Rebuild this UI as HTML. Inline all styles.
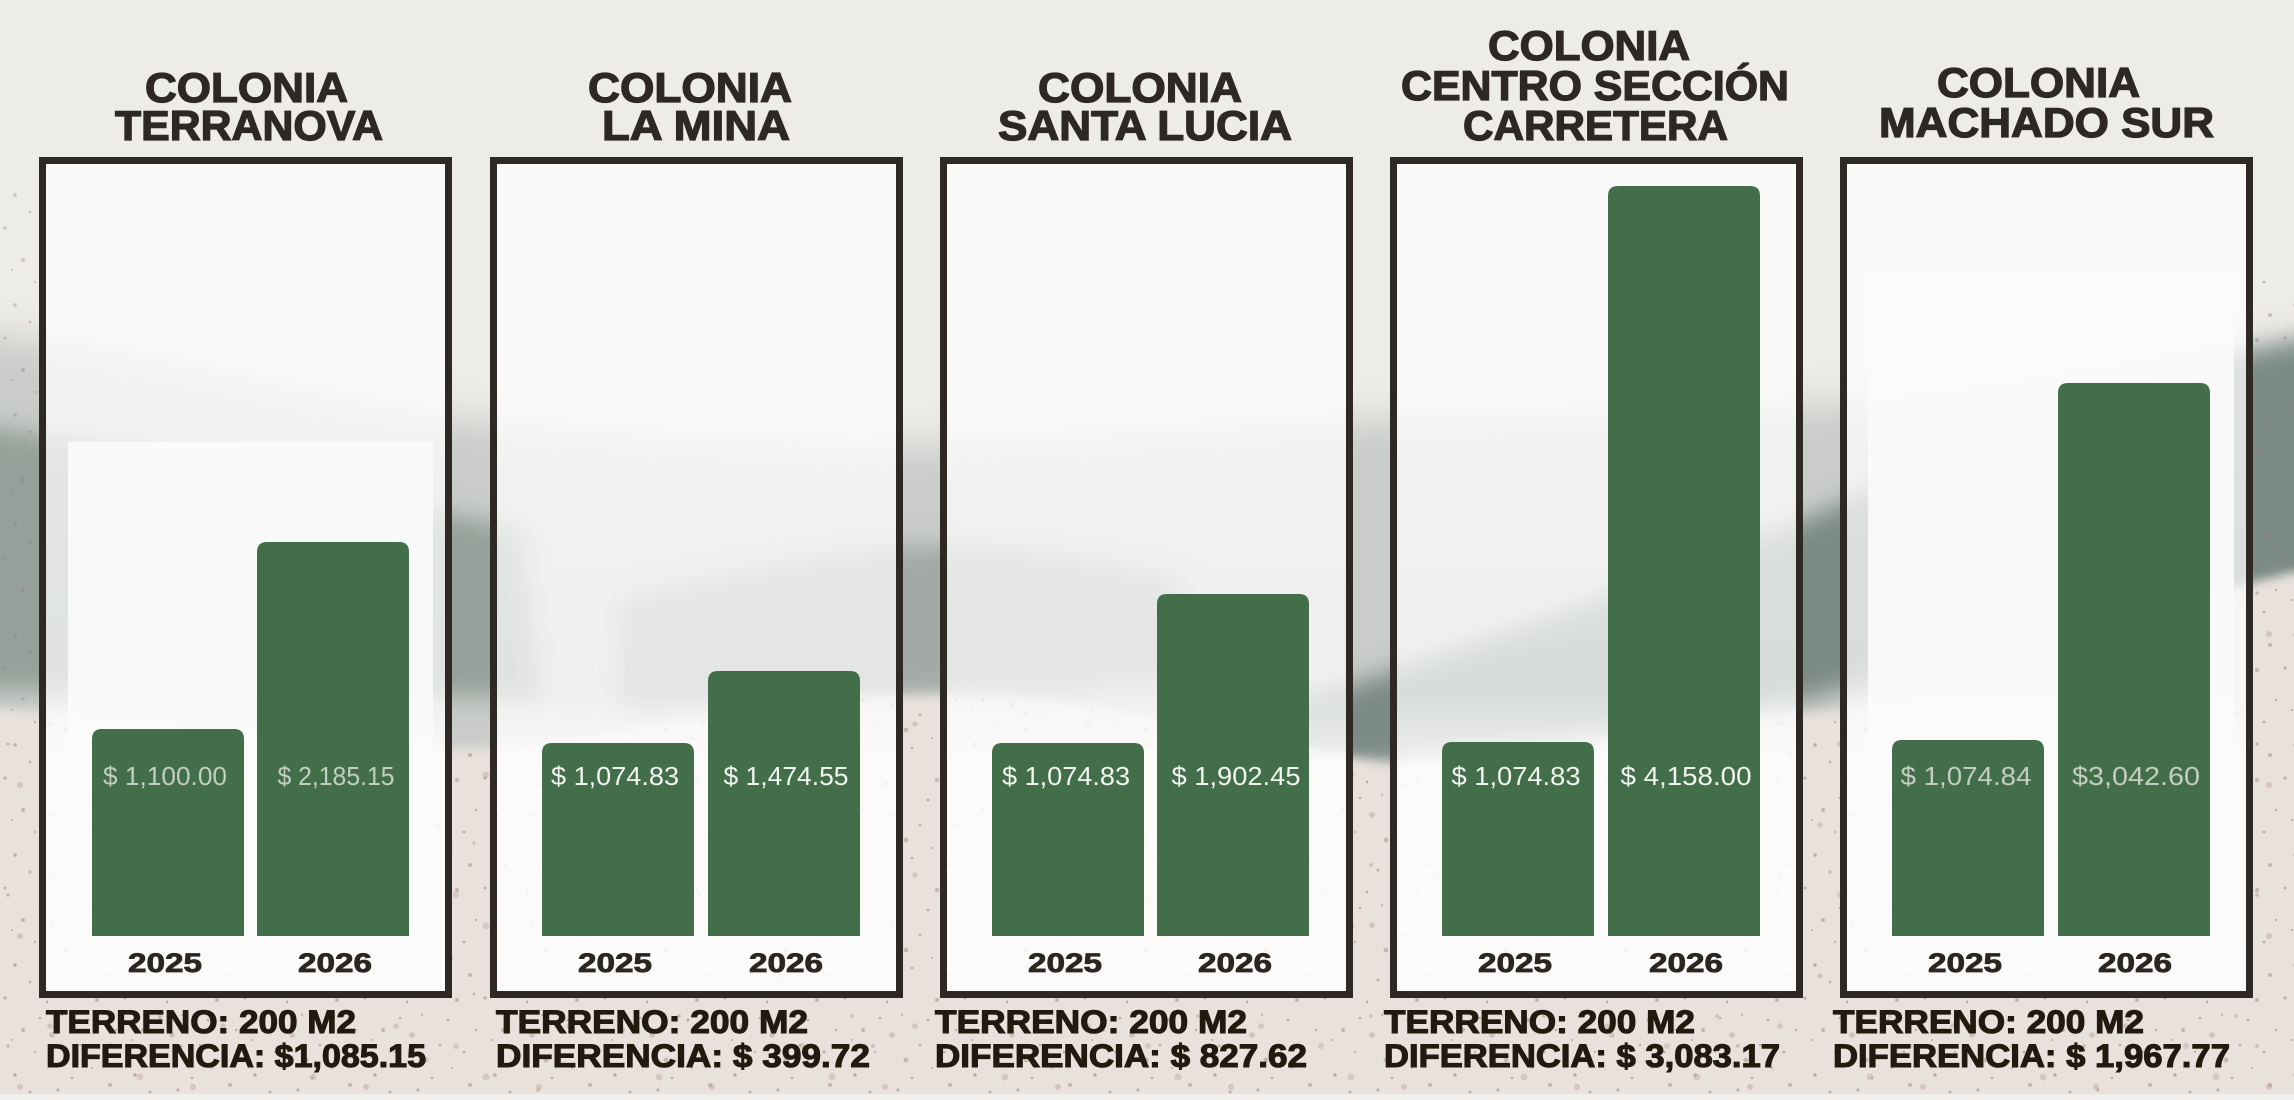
<!DOCTYPE html>
<html>
<head>
<meta charset="utf-8">
<style>
html,body{margin:0;padding:0;background:#eeece9;}
svg{display:block;}
text{font-family:"Liberation Sans",Arial,sans-serif;}
.t{font-weight:bold;font-size:42px;fill:#2d2823;stroke:#2d2823;stroke-width:1.3;}
.b{font-weight:bold;font-size:32px;fill:#22190f;stroke:#22190f;stroke-width:1.1;}
.y{font-weight:bold;font-size:27px;fill:#2b2620;stroke:#2b2620;stroke-width:0.8;}
.v{font-size:26px;fill:#f3f5f1;}
.vf{font-size:26px;fill:#c3cec1;}
</style>
</head>
<body>
<svg width="2294" height="1100" viewBox="0 0 2294 1100" xmlns="http://www.w3.org/2000/svg">
<defs>
  <filter id="bl12" x="-20%" y="-50%" width="140%" height="200%"><feGaussianBlur stdDeviation="12"/></filter>
  <filter id="bl20" x="-20%" y="-50%" width="140%" height="200%"><feGaussianBlur stdDeviation="20"/></filter>
  <filter id="bl5" x="-10%" y="-20%" width="120%" height="140%"><feGaussianBlur stdDeviation="5"/></filter>
  <linearGradient id="inner" x1="0" y1="0" x2="0" y2="1">
    <stop offset="0" stop-color="#ffffff" stop-opacity="0.72"/>
    <stop offset="0.3" stop-color="#ffffff" stop-opacity="0.74"/>
    <stop offset="0.64" stop-color="#ffffff" stop-opacity="0.70"/>
    <stop offset="0.72" stop-color="#ffffff" stop-opacity="0.86"/>
    <stop offset="1" stop-color="#ffffff" stop-opacity="0.88"/>
  </linearGradient>
  <pattern id="spk" width="120" height="110" patternUnits="userSpaceOnUse">
    <g fill="#9a7668">
      <circle cx="5" cy="8" r="1.5" opacity="0.6"/>
      <circle cx="23" cy="40" r="2" opacity="0.5"/>
      <circle cx="47" cy="12" r="1.2" opacity="0.7"/>
      <circle cx="66" cy="70" r="2.5" opacity="0.45"/>
      <circle cx="88" cy="30" r="1.5" opacity="0.6"/>
      <circle cx="110" cy="95" r="2" opacity="0.5"/>
      <circle cx="15" cy="85" r="1.8" opacity="0.55"/>
      <circle cx="35" cy="62" r="1" opacity="0.7"/>
      <circle cx="58" cy="100" r="1.6" opacity="0.5"/>
      <circle cx="80" cy="55" r="1.2" opacity="0.6"/>
      <circle cx="97" cy="10" r="2.2" opacity="0.45"/>
      <circle cx="104" cy="62" r="1.4" opacity="0.6"/>
      <circle cx="40" cy="28" r="1.3" opacity="0.55"/>
      <circle cx="72" cy="88" r="1.1" opacity="0.7"/>
      <circle cx="12" cy="50" r="1" opacity="0.6"/>
      <circle cx="52" cy="45" r="2.8" opacity="0.35"/>
      <circle cx="92" cy="78" r="1" opacity="0.6"/>
      <circle cx="30" cy="102" r="1.5" opacity="0.5"/>
      <circle cx="116" cy="40" r="1.2" opacity="0.6"/>
      <circle cx="62" cy="25" r="1" opacity="0.6"/>
    </g>
  </pattern>
  <pattern id="spk2" width="173" height="151" patternUnits="userSpaceOnUse">
    <g fill="#b09083">
      <circle cx="20" cy="30" r="3" opacity="0.35"/>
      <circle cx="90" cy="70" r="2.5" opacity="0.4"/>
      <circle cx="140" cy="20" r="3.5" opacity="0.3"/>
      <circle cx="50" cy="120" r="2.8" opacity="0.35"/>
      <circle cx="160" cy="110" r="2" opacity="0.4"/>
      <circle cx="110" cy="140" r="3" opacity="0.3"/>
      <circle cx="128" cy="88" r="1.5" opacity="0.5"/>
      <circle cx="8" cy="140" r="1.8" opacity="0.5"/>
    </g>
  </pattern>
  <clipPath id="groundClip">
    <path d="M-50 705 C150 715,350 760,520 745 C700 725,800 695,950 695 C1100 695,1250 745,1400 765 C1600 750,1750 718,1850 708 C2000 680,2150 600,2350 560 L2350 1150 L-50 1150 Z"/>
  </clipPath>
</defs>

<!-- background -->
<rect x="0" y="0" width="2294" height="1100" fill="#eeece9"/>
<!-- mist -->
<path d="M-50 330 C150 350,350 410,470 420 C650 440,800 450,920 445 C1100 440,1250 425,1370 420 C1550 415,1700 410,1820 405 C2000 395,2150 350,2350 340 L2350 820 L-50 820 Z" fill="#c9ccc9" filter="url(#bl20)"/>
<!-- left ridge -->
<path d="M-60 420 C100 440,300 480,520 530 L540 700 C400 690,200 690,-60 690 Z" fill="#95a09a" filter="url(#bl12)"/>
<!-- middle ridge -->
<path d="M620 600 C740 570,860 545,940 545 C1030 545,1100 560,1180 580 L1180 680 C1080 688,1000 692,920 694 C830 696,740 704,620 712 Z" fill="#a3aaa6" filter="url(#bl12)"/>
<!-- big right ridge -->
<path d="M1180 740 C1400 670,1650 590,1850 500 C2000 440,2200 350,2360 330 L2360 580 C2150 600,1950 660,1800 700 C1600 740,1400 765,1180 780 Z" fill="#7c8a85" filter="url(#bl12)"/>
<!-- ground -->
<path d="M-50 705 C150 715,350 760,520 745 C700 725,800 695,950 695 C1100 695,1250 745,1400 765 C1600 750,1750 718,1850 708 C2000 680,2150 600,2350 560 L2350 1150 L-50 1150 Z" fill="#e8e1dc" filter="url(#bl5)"/>
<g clip-path="url(#groundClip)">
  <rect x="0" y="540" width="2294" height="560" fill="url(#spk)" opacity="0.85"/>
  <rect x="0" y="540" width="2294" height="560" fill="url(#spk2)"/>
</g>
<!-- speckles on right edge above ground and left top -->
<rect x="2254" y="280" width="40" height="300" fill="url(#spk)" opacity="0.8"/>
<rect x="0" y="180" width="38" height="520" fill="url(#spk)" opacity="0.7"/>
<rect x="0" y="1094" width="2294" height="6" fill="#f1efed"/>

<!-- box interiors -->
<rect x="46" y="164" width="399" height="827" fill="url(#inner)"/>
<rect x="497" y="164" width="399" height="827" fill="url(#inner)"/>
<rect x="947" y="164" width="399" height="827" fill="url(#inner)"/>
<rect x="1397" y="164" width="399" height="827" fill="url(#inner)"/>
<rect x="1847" y="164" width="399" height="827" fill="url(#inner)"/>

<!-- white overlay panels in box 1 and 5 -->
<rect x="68" y="442" width="365" height="518" fill="#fbfbfb" opacity="0.9"/>
<rect x="1868" y="275" width="366" height="684" fill="#fbfbfb" opacity="0.9"/>

<!-- bars -->
<g fill="#436e4a">
  <path d="M92 936 L92 739 Q92 729 102 729 L234 729 Q244 729 244 739 L244 936 Z"/>
  <path d="M257 936 L257 552 Q257 542 267 542 L399 542 Q409 542 409 552 L409 936 Z"/>
  <path d="M542 936 L542 753 Q542 743 552 743 L684 743 Q694 743 694 753 L694 936 Z"/>
  <path d="M708 936 L708 681 Q708 671 718 671 L850 671 Q860 671 860 681 L860 936 Z"/>
  <path d="M992 936 L992 753 Q992 743 1002 743 L1134 743 Q1144 743 1144 753 L1144 936 Z"/>
  <path d="M1157 936 L1157 604 Q1157 594 1167 594 L1299 594 Q1309 594 1309 604 L1309 936 Z"/>
  <path d="M1442 936 L1442 752 Q1442 742 1452 742 L1584 742 Q1594 742 1594 752 L1594 936 Z"/>
  <path d="M1608 936 L1608 196 Q1608 186 1618 186 L1750 186 Q1760 186 1760 196 L1760 936 Z"/>
  <path d="M1892 936 L1892 750 Q1892 740 1902 740 L2034 740 Q2044 740 2044 750 L2044 936 Z"/>
  <path d="M2058 936 L2058 393 Q2058 383 2068 383 L2200 383 Q2210 383 2210 393 L2210 936 Z"/>
</g>

<!-- box borders -->
<g fill="none" stroke="#2e2924" stroke-width="7">
  <rect x="42.5" y="160.5" width="406" height="834"/>
  <rect x="493.5" y="160.5" width="406" height="834"/>
  <rect x="943.5" y="160.5" width="406" height="834"/>
  <rect x="1393.5" y="160.5" width="406" height="834"/>
  <rect x="1843.5" y="160.5" width="406" height="834"/>
</g>

<!-- titles -->
<text class="t" x="145" y="102" textLength="203" lengthAdjust="spacingAndGlyphs">COLONIA</text>
<text class="t" x="115" y="140" textLength="268" lengthAdjust="spacingAndGlyphs">TERRANOVA</text>
<text class="t" x="588" y="102" textLength="204" lengthAdjust="spacingAndGlyphs">COLONIA</text>
<text class="t" x="602" y="140" textLength="188" lengthAdjust="spacingAndGlyphs">LA MINA</text>
<text class="t" x="1038" y="102" textLength="204" lengthAdjust="spacingAndGlyphs">COLONIA</text>
<text class="t" x="998" y="140" textLength="294" lengthAdjust="spacingAndGlyphs">SANTA LUCIA</text>
<text class="t" x="1488" y="60" textLength="202" lengthAdjust="spacingAndGlyphs">COLONIA</text>
<text class="t" x="1401" y="100" textLength="388" lengthAdjust="spacingAndGlyphs">CENTRO SECCIÓN</text>
<text class="t" x="1463" y="140" textLength="265" lengthAdjust="spacingAndGlyphs">CARRETERA</text>
<text class="t" x="1937" y="97" textLength="203" lengthAdjust="spacingAndGlyphs">COLONIA</text>
<text class="t" x="1879" y="137" textLength="335" lengthAdjust="spacingAndGlyphs">MACHADO SUR</text>

<!-- value labels -->
<text class="vf" x="165" y="785" text-anchor="middle" textLength="124" lengthAdjust="spacingAndGlyphs">$ 1,100.00</text>
<text class="vf" x="336" y="785" text-anchor="middle" textLength="117" lengthAdjust="spacingAndGlyphs">$ 2,185.15</text>
<text class="v" x="615" y="785" text-anchor="middle" textLength="128" lengthAdjust="spacingAndGlyphs">$ 1,074.83</text>
<text class="v" x="786" y="785" text-anchor="middle" textLength="125" lengthAdjust="spacingAndGlyphs">$ 1,474.55</text>
<text class="v" x="1066" y="785" text-anchor="middle" textLength="128" lengthAdjust="spacingAndGlyphs">$ 1,074.83</text>
<text class="v" x="1236" y="785" text-anchor="middle" textLength="129" lengthAdjust="spacingAndGlyphs">$ 1,902.45</text>
<text class="v" x="1516" y="785" text-anchor="middle" textLength="129" lengthAdjust="spacingAndGlyphs">$ 1,074.83</text>
<text class="v" x="1686" y="785" text-anchor="middle" textLength="131" lengthAdjust="spacingAndGlyphs">$ 4,158.00</text>
<text class="vf" x="1966" y="785" text-anchor="middle" textLength="131" lengthAdjust="spacingAndGlyphs">$ 1,074.84</text>
<text class="vf" x="2136" y="785" text-anchor="middle" textLength="128" lengthAdjust="spacingAndGlyphs">$3,042.60</text>

<!-- year labels -->
<text class="y" x="165" y="972" text-anchor="middle" textLength="74" lengthAdjust="spacingAndGlyphs">2025</text>
<text class="y" x="335" y="972" text-anchor="middle" textLength="74" lengthAdjust="spacingAndGlyphs">2026</text>
<text class="y" x="615" y="972" text-anchor="middle" textLength="74" lengthAdjust="spacingAndGlyphs">2025</text>
<text class="y" x="786" y="972" text-anchor="middle" textLength="74" lengthAdjust="spacingAndGlyphs">2026</text>
<text class="y" x="1065" y="972" text-anchor="middle" textLength="74" lengthAdjust="spacingAndGlyphs">2025</text>
<text class="y" x="1235" y="972" text-anchor="middle" textLength="74" lengthAdjust="spacingAndGlyphs">2026</text>
<text class="y" x="1515" y="972" text-anchor="middle" textLength="74" lengthAdjust="spacingAndGlyphs">2025</text>
<text class="y" x="1686" y="972" text-anchor="middle" textLength="74" lengthAdjust="spacingAndGlyphs">2026</text>
<text class="y" x="1965" y="972" text-anchor="middle" textLength="74" lengthAdjust="spacingAndGlyphs">2025</text>
<text class="y" x="2135" y="972" text-anchor="middle" textLength="74" lengthAdjust="spacingAndGlyphs">2026</text>

<!-- bottom text -->
<text class="b" x="46" y="1033" textLength="310" lengthAdjust="spacingAndGlyphs">TERRENO: 200 M2</text>
<text class="b" x="46" y="1067" textLength="380" lengthAdjust="spacingAndGlyphs">DIFERENCIA: $1,085.15</text>
<text class="b" x="496" y="1033" textLength="312" lengthAdjust="spacingAndGlyphs">TERRENO: 200 M2</text>
<text class="b" x="496" y="1067" textLength="374" lengthAdjust="spacingAndGlyphs">DIFERENCIA: $ 399.72</text>
<text class="b" x="935" y="1033" textLength="312" lengthAdjust="spacingAndGlyphs">TERRENO: 200 M2</text>
<text class="b" x="935" y="1067" textLength="372" lengthAdjust="spacingAndGlyphs">DIFERENCIA: $ 827.62</text>
<text class="b" x="1384" y="1033" textLength="311" lengthAdjust="spacingAndGlyphs">TERRENO: 200 M2</text>
<text class="b" x="1384" y="1067" textLength="396" lengthAdjust="spacingAndGlyphs">DIFERENCIA: $ 3,083.17</text>
<text class="b" x="1833" y="1033" textLength="311" lengthAdjust="spacingAndGlyphs">TERRENO: 200 M2</text>
<text class="b" x="1833" y="1067" textLength="397" lengthAdjust="spacingAndGlyphs">DIFERENCIA: $ 1,967.77</text>
</svg>
</body>
</html>
